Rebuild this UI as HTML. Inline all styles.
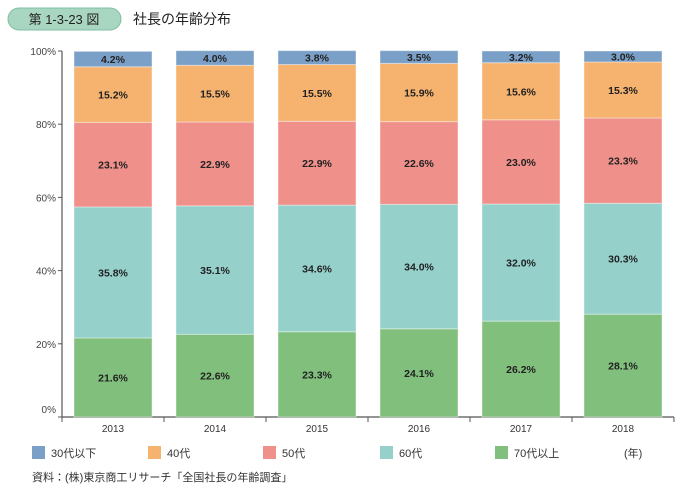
<!DOCTYPE html>
<html><head><meta charset="utf-8"><style>
body{margin:0;background:#fff;font-family:"Liberation Sans","Noto Sans CJK JP",sans-serif;}
svg text{font-family:"Liberation Sans","Noto Sans CJK JP",sans-serif;}
</style></head><body>
<svg id="c" width="684" height="490" viewBox="0 0 684 490">
<rect x="8" y="8" width="113" height="22" rx="11" fill="#a9d6c0" stroke="#7fbfa3"/>
<text x="64" y="24" font-size="13" text-anchor="middle" fill="#222">第 1-3-23 図</text>
<text x="133" y="24" font-size="14" fill="#222">社長の年齢分布</text>
<g id="axes"></g><g id="bars"></g><g id="legend"></g>
<text x="624" y="457" font-size="11" fill="#333">(年)</text>
<text x="32" y="481" font-size="11" fill="#333">資料：(株)東京商工リサーチ「全国社長の年齢調査」</text>
</svg>
<script>
const years=["2013","2014","2015","2016","2017","2018"];
const s70=[21.6,22.6,23.3,24.1,26.2,28.1];
const s60=[35.8,35.1,34.6,34.0,32.0,30.3];
const s50=[23.1,22.9,22.9,22.6,23.0,23.3];
const s40=[15.2,15.5,15.5,15.9,15.6,15.3];
const s30=[4.2,4.0,3.8,3.5,3.2,3.0];
const seriesNames=["70代以上","60代","50代","40代","30代以下"];
const yTicks=[0,20,40,60,80,100];
const series=[s70,s60,s50,s40,s30];
const colors=["#80bf7c","#95d0cb","#f0908a","#f6b26f","#7ba0c8"];
const ns="http://www.w3.org/2000/svg";
const X0=62,X1=674,Y0=417,Y1=51;
const cw=(X1-X0)/years.length;
const y=v=>Y0-(v/100)*(Y0-Y1);
const xs=i=>X0+i*cw;
function mk(t,a,p){const e=document.createElementNS(ns,t);for(const k in a)e.setAttribute(k,a[k]);p.appendChild(e);return e;}
const ax=document.getElementById('axes'),bg=document.getElementById('bars'),lg=document.getElementById('legend');
let l=mk('line',{x1:X0,y1:Y1,x2:X0,y2:Y0,stroke:'#555','stroke-width':1.2},ax);


l=mk('line',{x1:X0,y1:Y0,x2:X1,y2:Y0,stroke:'#555','stroke-width':1.2},ax);


yTicks.forEach(v=>{
  const t=mk('line',{x1:X0-4,y1:y(v),x2:X0,y2:y(v),stroke:'#555'},ax);
  
  
  const tx=mk('text',{x:X0-6,y:y(v)+(v==0?-4:4),'font-size':10,'text-anchor':'end',fill:'#444'},ax);
  tx.textContent=v+'%';
  
  
});
for(let i=0;i<=years.length;i++){
  const t=mk('line',{x1:xs(i),y1:Y0,x2:xs(i),y2:Y0+5,stroke:'#555'},ax);
  
  
}
years.forEach((yr,i)=>{
  const tx=mk('text',{x:xs(i)+cw/2,y:Y0+15,'font-size':10,'text-anchor':'middle',fill:'#333'},ax);
  tx.textContent=yr;
  
  
  let cum=0;
  series.forEach((s,k)=>{
    const v=s[i];const top=y(cum+v),bot=y(cum);
    const r=mk('rect',{x:xs(i)+12,y:top,width:cw-24,height:bot-top,fill:colors[k],stroke:'#fff','stroke-opacity':0.4,'stroke-width':1},bg);
    
    
    const t=mk('text',{x:xs(i)+cw/2,y:(top+bot)/2+4,'font-size':10.5,'font-weight':'bold','text-anchor':'middle',fill:'#222'},bg);
    t.textContent=v.toFixed(1)+'%';
    
    
    cum+=v;
  });
});
const lx=[32,148,263,380,495];
const order=[4,3,2,1,0];
order.forEach((k,j)=>{
  const r=mk('rect',{x:lx[j],y:446,width:13,height:13,fill:colors[k]},lg);
  
  
  const t=mk('text',{x:lx[j]+19,y:457,'font-size':11,fill:'#333'},lg);
  t.textContent=seriesNames[k];
  
  
});
</script>
</body></html>
